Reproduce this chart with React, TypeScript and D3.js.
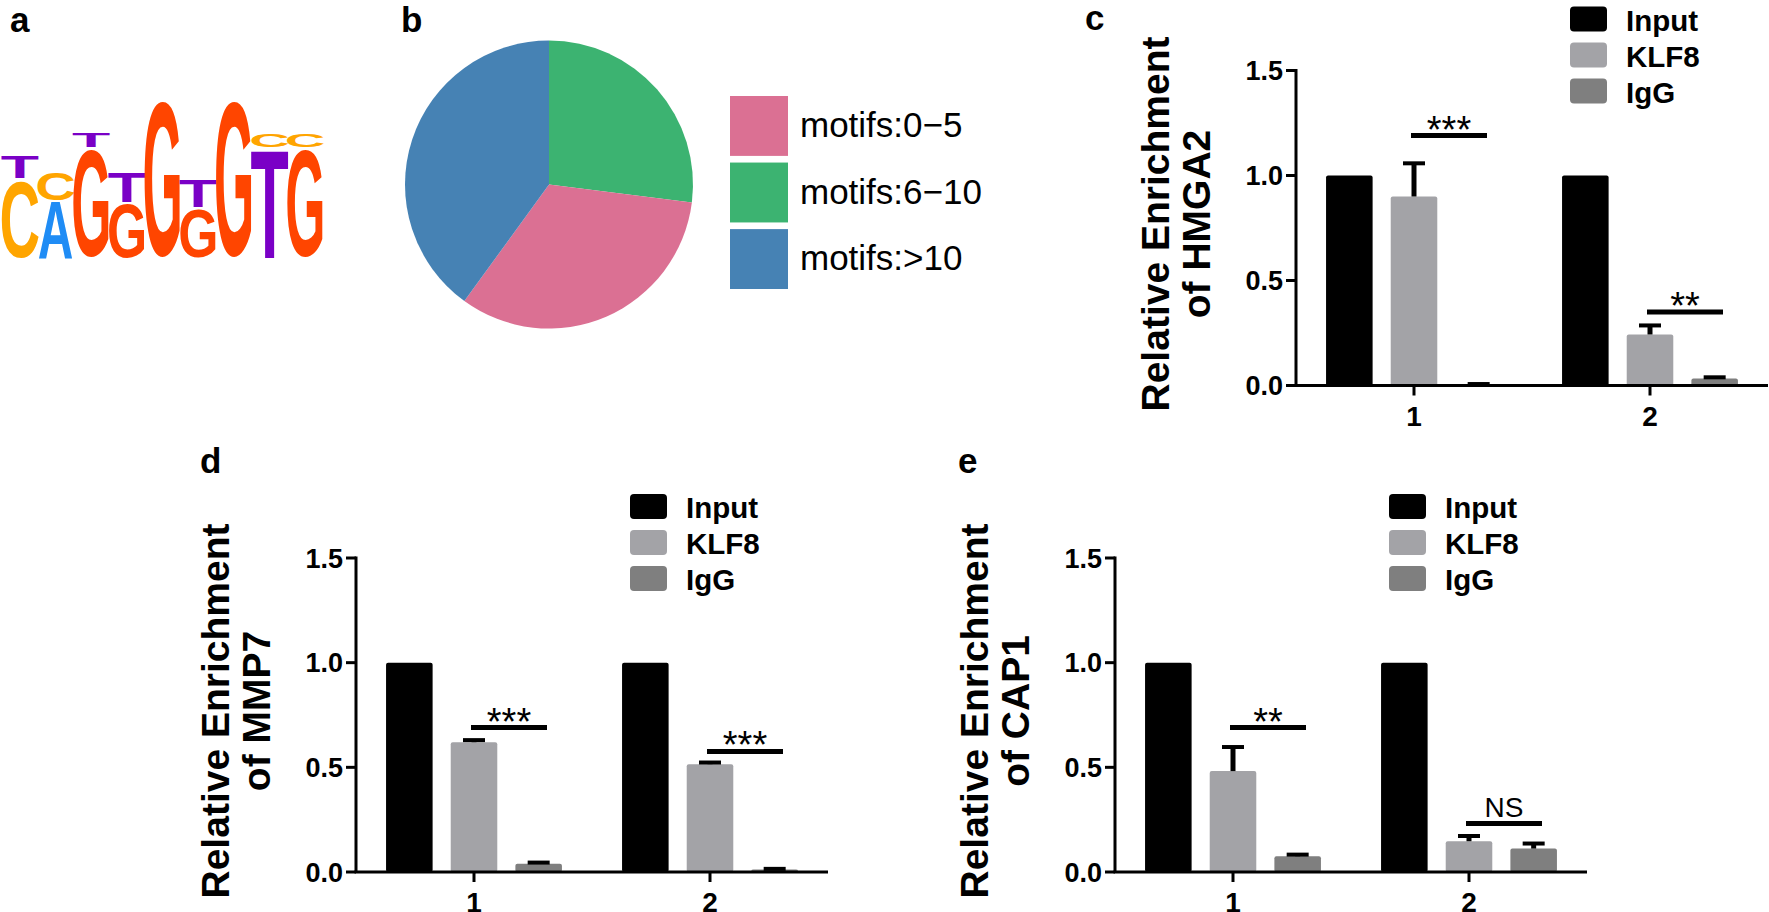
import React from "react";
import * as d3 from "d3";

const FONT = "'Liberation Sans', Arial, Helvetica, sans-serif";

// ---------- Panel a: sequence logo ----------
const logoLetters: string[][] = [
  ["C", "T"], ["A", "C"], ["G", "T"], ["G", "T"], ["G"],
  ["G", "T"], ["G"], ["T", "C"], ["G", "C"],
];
const logoBits: number[][] = [
  [0.98, 0.27], [0.71, 0.36], [1.36, 0.18], [0.69, 0.37], [2.0],
  [0.63, 0.34], [2.0], [1.36, 0.17], [1.36, 0.17],
];
const letterColors: Record<string, string> = {
  A: "#1f8cf5", C: "#ffa500", G: "#ff4500", T: "#7a00c6",
};
// approximate ink box (em units) of bold glyphs: [x0, x1, top, bottom]
const glyphInk: Record<string, number[]> = {
  A: [0.0, 0.722, -0.716, 0],
  C: [0.045, 0.68, -0.73, 0.012],
  G: [0.04, 0.73, -0.73, 0.012],
  T: [0.02, 0.59, -0.716, 0],
};

// ---------- Panel b: pie ----------
const pieCategories = ["motifs:0\u22125", "motifs:6\u221210", "motifs:>10"];
const pieValues = [33, 27, 40];
const pieColors = ["#DB7093", "#3CB371", "#4682B4"];
const pieDrawOrder = [1, 0, 2];

// ---------- Panels c-e: bar charts ----------
const groups = ["1", "2"];
const series = ["Input", "KLF8", "IgG"];
const seriesColors = ["#000000", "#a3a3a7", "#7f7f7f"];
const yTicks = [0, 0.5, 1.0, 1.5];
const yTickLabels = ["0.0", "0.5", "1.0", "1.5"];

const hmga2Values = [[1, 0.9, 0.005], [1, 0.243, 0.033]];
const hmga2Errors = [[0, 0.158, 0.002], [0, 0.043, 0.006]];
const hmga2Sig = [{ label: "***", y: 1.19 }, { label: "**", y: 0.35 }];

const mmp7Values = [[1, 0.62, 0.04], [1, 0.515, 0.012]];
const mmp7Errors = [[0, 0.01, 0.005], [0, 0.008, 0.003]];
const mmp7Sig = [{ label: "***", y: 0.69 }, { label: "***", y: 0.576 }];

const cap1Values = [[1, 0.482, 0.075], [1, 0.147, 0.112]];
const cap1Errors = [[0, 0.115, 0.008], [0, 0.025, 0.024]];
const cap1Sig = [{ label: "**", y: 0.69 }, { label: "NS", y: 0.232 }];

function PanelLabel({ x, y, t }: { x: number; y: number; t: string }) {
  return (
    <text x={x} y={y} fontFamily={FONT} fontWeight="bold" fontSize={35} fill="#000">
      {t}
    </text>
  );
}

function Logo() {
  const col = d3.scaleBand<number>().domain(d3.range(logoLetters.length)).range([2, 323]);
  const bits = d3.scaleLinear().domain([0, 2]).range([258, 95]);
  const fs = 100;
  const out: React.ReactNode[] = [];
  logoLetters.forEach((stack, i) => {
    let cum = 0;
    stack.forEach((L, j) => {
      const b = logoBits[i][j];
      const yB = bits(cum);
      const yT = bits(cum + b);
      cum += b;
      const [x0, x1, top, bottom] = glyphInk[L];
      const w = col.bandwidth();
      const h = yB - yT;
      const sx = w / ((x1 - x0) * fs);
      const sy = h / ((bottom - top) * fs);
      const tx = (col(i) as number) - x0 * fs * sx;
      const ty = yB - bottom * fs * sy;
      out.push(
        <text
          key={`${i}-${j}`}
          transform={`translate(${tx},${ty}) scale(${sx},${sy})`}
          fontFamily={FONT}
          fontWeight="bold"
          fontSize={fs}
          fill={letterColors[L]}
        >
          {L}
        </text>
      );
    });
  });
  return <g>{out}</g>;
}

function Pie() {
  const cx = 549, cy = 184.5, r = 144;
  const ordered = pieDrawOrder.map((k) => ({ k, v: pieValues[k] }));
  const arcs = d3.pie<{ k: number; v: number }>().sort(null).value((d) => d.v)(ordered);
  const arc = d3.arc<d3.PieArcDatum<{ k: number; v: number }>>().innerRadius(0).outerRadius(r);
  const legendY = d3.scaleBand().domain(pieCategories).range([96, 289]).paddingInner(0.1);
  return (
    <g>
      <g transform={`translate(${cx},${cy})`}>
        {arcs.map((a) => (
          <path key={a.data.k} d={arc(a) as string} fill={pieColors[a.data.k]} />
        ))}
      </g>
      {pieCategories.map((c, i) => {
        const y = legendY(c) as number;
        const h = legendY.bandwidth();
        return (
          <g key={c}>
            <rect x={730} y={y} width={58} height={h} fill={pieColors[i]} />
            <text x={800} y={y + h / 2 + 11} fontFamily={FONT} fontSize={35} fill="#000">
              {c}
            </text>
          </g>
        );
      })}
    </g>
  );
}

type Sig = { label: string; y: number };

function BarPanel(props: {
  x0: number; yTop: number; yBottom: number;
  values: number[][]; errors: number[][]; sig: Sig[]; gene: string;
}) {
  const { x0, yTop, yBottom, values, errors, sig, gene } = props;
  const axisLen = 472;
  const ys = d3.scaleLinear().domain([0, 1.5]).range([yBottom, yTop]);
  const xg = d3.scaleBand().domain(groups).range([x0, x0 + axisLen]);
  const xs = d3.scaleBand().domain(series).range([-97, 97]).paddingInner(0.28).paddingOuter(0.14);
  const bw = xs.bandwidth();
  const gc = (g: string) => (xg(g) as number) + xg.bandwidth() / 2;
  const cyTitle = (yTop + yBottom) / 2 - 4;
  const legY = d3.scaleBand().domain(series).range([yTop - 64, yTop - 64 + 108]);

  return (
    <g>
      {groups.map((g, gi) =>
        series.map((s, si) => {
          const v = values[gi][si];
          const x = gc(g) + (xs(s) as number);
          return (
            <rect key={`${g}-${s}`} x={x} y={ys(v)} width={bw} height={yBottom - ys(v)} rx={2}
              fill={seriesColors[si]} />
          );
        })
      )}
      {groups.map((g, gi) =>
        series.map((s, si) => {
          const e = errors[gi][si];
          if (!e) return null;
          const v = values[gi][si];
          const cx = gc(g) + (xs(s) as number) + bw / 2;
          return (
            <g key={`e-${g}-${s}`} stroke="#000">
              <line x1={cx} x2={cx} y1={ys(v)} y2={ys(v + e)} strokeWidth={5} />
              <line x1={cx - 11} x2={cx + 11} y1={ys(v + e)} y2={ys(v + e)} strokeWidth={4} />
            </g>
          );
        })
      )}
      {groups.map((g, gi) => {
        const s = sig[gi];
        const c = gc(g);
        const y = ys(s.y);
        const isNS = s.label === "NS";
        return (
          <g key={`s-${g}`}>
            <line x1={c - 3} x2={c + 73} y1={y} y2={y} stroke="#000" strokeWidth={5} />
            <text x={c + 35} y={isNS ? y - 6 : y + 7} textAnchor="middle" fontFamily={FONT}
              fontSize={isNS ? 28 : 38} fill="#000">
              {s.label}
            </text>
          </g>
        );
      })}
      <line x1={x0} x2={x0} y1={yTop - 1.5} y2={yBottom} stroke="#000" strokeWidth={3} />
      <line x1={x0 - 1.5} x2={x0 + axisLen} y1={yBottom} y2={yBottom} stroke="#000" strokeWidth={3} />
      {yTicks.map((t, i) => (
        <g key={`yt-${t}`}>
          <line x1={x0 - 10} x2={x0} y1={ys(t)} y2={ys(t)} stroke="#000" strokeWidth={3} />
          <text x={x0 - 13} y={ys(t) + 9.5} textAnchor="end" fontFamily={FONT} fontWeight="bold"
            fontSize={27} fill="#000">
            {yTickLabels[i]}
          </text>
        </g>
      ))}
      {groups.map((g) => (
        <g key={`xt-${g}`}>
          <line x1={gc(g)} x2={gc(g)} y1={yBottom} y2={yBottom + 10} stroke="#000" strokeWidth={3} />
          <text x={gc(g)} y={yBottom + 40} textAnchor="middle" fontFamily={FONT} fontWeight="bold"
            fontSize={28} fill="#000">
            {g}
          </text>
        </g>
      ))}
      <text transform={`translate(${x0 - 127},${cyTitle}) rotate(-90)`} textAnchor="middle"
        fontFamily={FONT} fontWeight="bold" fontSize={39} fill="#000">
        Relative Enrichment
      </text>
      <text transform={`translate(${x0 - 86},${cyTitle}) rotate(-90)`} textAnchor="middle"
        fontFamily={FONT} fontWeight="bold" fontSize={39} fill="#000">
        {`of ${gene}`}
      </text>
      {series.map((s, i) => {
        const y = legY(s) as number;
        return (
          <g key={`l-${s}`}>
            <rect x={x0 + 274} y={y} width={37} height={25} rx={4} fill={seriesColors[i]} />
            <text x={x0 + 330} y={y + 24} fontFamily={FONT} fontWeight="bold" fontSize={29.5} fill="#000">
              {s}
            </text>
          </g>
        );
      })}
    </g>
  );
}

export default function App() {
  return (
    <svg width={1769} height={912} viewBox="0 0 1769 912"
      style={{ position: "absolute", left: 0, top: 0, background: "#fff" }}>
      <rect width={1769} height={912} fill="#fff" />
      <PanelLabel x={10} y={32} t="a" />
      <PanelLabel x={401} y={32} t="b" />
      <PanelLabel x={1085} y={30} t="c" />
      <PanelLabel x={200} y={473} t="d" />
      <PanelLabel x={958} y={473} t="e" />
      <Logo />
      <Pie />
      <BarPanel x0={1296} yTop={70.5} yBottom={385.5} values={hmga2Values} errors={hmga2Errors}
        sig={hmga2Sig} gene="HMGA2" />
      <BarPanel x0={356} yTop={558} yBottom={872} values={mmp7Values} errors={mmp7Errors}
        sig={mmp7Sig} gene="MMP7" />
      <BarPanel x0={1115} yTop={558} yBottom={872} values={cap1Values} errors={cap1Errors}
        sig={cap1Sig} gene="CAP1" />
    </svg>
  );
}
